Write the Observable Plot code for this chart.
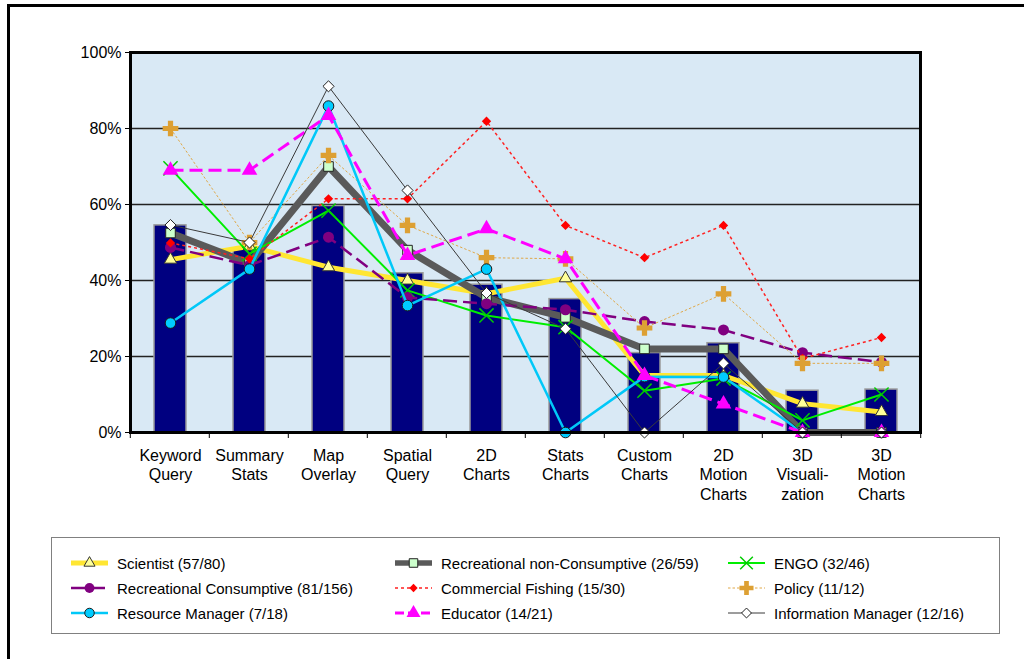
<!DOCTYPE html>
<html><head><meta charset="utf-8">
<script src="https://cdn.jsdelivr.net/npm/d3@7"></script>
<script src="https://cdn.jsdelivr.net/npm/@observablehq/plot@0.6"></script>
<style>
body{margin:0;background:#fff;font-family:"Liberation Sans",Arial,sans-serif;}
#wrap{position:relative;width:1024px;height:659px;overflow:hidden;background:#fff;}
#page{position:absolute;left:7px;top:4px;width:1030px;height:670px;border-left:3px solid #000;border-top:3px solid #000;}
#chart{position:absolute;left:0;top:0;}
#legend{position:absolute;left:51px;top:537px;width:947px;height:95px;border:1px solid #808080;background:#fff;}
.item{position:absolute;height:20px;display:flex;align-items:center;font-size:15px;color:#000;white-space:nowrap;}
.item svg{margin-right:9px;}
</style></head><body>
<div id="wrap"><div id="page"></div><div id="chart"></div><div id="legend"></div></div>
<script>
// ---- data ----
const categories = ["Keyword Query","Summary Stats","Map Overlay","Spatial Query","2D Charts","Stats Charts","Custom Charts","2D Motion Charts","3D Visualization","3D Motion Charts"];
const tickLabels = ["Keyword\nQuery","Summary\nStats","Map\nOverlay","Spatial\nQuery","2D\nCharts","Stats\nCharts","Custom\nCharts","2D\nMotion\nCharts","3D\nVisuali-\nzation","3D\nMotion\nCharts"];
const barValues = [0.545, 0.482, 0.596, 0.419, 0.389, 0.351, 0.209, 0.235, 0.110, 0.113];
const yTicks = [0, 0.2, 0.4, 0.6, 0.8, 1.0];

const seriesNames = ["Scientist (57/80)","Recreational non-Consumptive (26/59)","ENGO (32/46)","Recreational Consumptive (81/156)","Commercial Fishing (15/30)","Policy (11/12)","Resource Manager (7/18)","Educator (14/21)","Information Manager (12/16)"];
const scientist     = [0.455, 0.490, 0.435, 0.400, 0.365, 0.406, 0.150, 0.150, 0.076, 0.054];
const recNonCons    = [0.525, 0.445, 0.700, 0.480, 0.355, 0.303, 0.220, 0.220, 0.000, 0.000];
const engo          = [0.695, 0.470, 0.584, 0.374, 0.308, 0.277, 0.110, 0.142, 0.032, 0.100];
const recCons       = [0.487, 0.440, 0.514, 0.355, 0.339, 0.323, 0.292, 0.270, 0.210, 0.185];
const commFishing   = [0.499, 0.457, 0.615, 0.615, 0.819, 0.545, 0.460, 0.545, 0.195, 0.250];
const policy        = [0.800, 0.500, 0.729, 0.545, 0.460, 0.457, 0.275, 0.365, 0.182, 0.182];
const resourceMgr   = [0.288, 0.430, 0.859, 0.334, 0.430, 0.000, 0.147, 0.146, 0.000, 0.000];
const educator      = [0.690, 0.690, 0.834, 0.466, 0.536, 0.457, 0.150, 0.075, 0.000, 0.000];
const infoMgr       = [0.546, 0.500, 0.911, 0.637, 0.367, 0.273, 0.000, 0.182, 0.000, 0.000];
const seriesValues = [scientist, recNonCons, engo, recCons, commFishing, policy, resourceMgr, educator, infoMgr];

// ---- styles ----
const styles = [
  {stroke:"#ffe632", w:5,   dash:null,   symbol:"triangle", r:4.6, fill:"#ffff99", mstroke:"#333", msw:1},
  {stroke:"#5a5a5a", w:7,   dash:null,   symbol:"square",   r:5.4, fill:"#ccffcc", mstroke:"#222", msw:1},
  {stroke:"#00ee00", w:2,   dash:null,   symbol:"times",    r:6.5, fill:"none",    mstroke:"#00cc00", msw:1.5},
  {stroke:"#800080", w:2.5, dash:"14,6", symbol:"circle",   r:5.5, fill:"#800080", mstroke:"#800080", msw:0},
  {stroke:"#ff2020", w:1.5, dash:"3,3",  symbol:"diamond2", r:4.2, fill:"#ff0000", mstroke:"#ff0000", msw:0},
  {stroke:"#e0a848", w:1,   dash:"2.5,2",symbol:"cross",    r:6.6, fill:"#dda033", mstroke:"#dda033", msw:0},
  {stroke:"#00c8f8", w:2.5, dash:null,   symbol:"circle",   r:5.3, fill:"#00ccff", mstroke:"#1a1a1a", msw:1},
  {stroke:"#ff00ff", w:3,   dash:"13,6", symbol:"triangle", r:5.8, fill:"#ff00ff", mstroke:"none", msw:0},
  {stroke:"#3a3a3a", w:1,   dash:null,   symbol:"diamond2", r:5.0, fill:"#ffffff", mstroke:"#222", msw:1}
];

const bars = categories.map((c,i)=>({cat:c, v:barValues[i]}));
const labelOf = new Map(categories.map((c,i)=>[c, tickLabels[i]]));

const marks = [
  Plot.frame({fill:"#d9e9f5", stroke:"none"}),
  Plot.ruleY(yTicks.filter(t=>t>0 && t<1), {stroke:"#222", strokeWidth:1.3}),
  Plot.barY(bars, {x:"cat", y:"v", fill:"#000080", stroke:"#9a9a9a", strokeWidth:1.5})
];
seriesValues.forEach((vals,si)=>{
  const st = styles[si];
  const rows = categories.map((c,i)=>({cat:c, v:vals[i]}));
  marks.push(Plot.line(rows, {x:"cat", y:"v", stroke:st.stroke, strokeWidth:st.w, strokeDasharray:st.dash, strokeLinejoin:"round", strokeLinecap:"butt"}));
  marks.push(Plot.dot(rows, {x:"cat", y:"v", symbol:st.symbol, r:st.r, fill:st.fill, stroke:st.mstroke, strokeWidth:st.msw}));
});
marks.push(Plot.frame({stroke:"#000", strokeWidth:3}));
marks.push(Plot.axisY({ticks:yTicks, tickFormat:d3.format(".0%"), tickSize:5, tickPadding:4, fontSize:16, stroke:"#000"}));
marks.push(Plot.axisX({tickSize:0, tickPadding:15, fontSize:16, lineHeight:1.2, tickFormat:d=>labelOf.get(d)}));

const chart = Plot.plot({
  width:1024, height:537,
  marginLeft:130, marginRight:104, marginTop:52, marginBottom:105,
  style:{background:"transparent", fontFamily:"Liberation Sans, Arial, sans-serif", color:"#000", overflow:"visible"},
  x:{type:"band", domain:categories, paddingInner:0.6, paddingOuter:0.3, label:null},
  y:{domain:[0,1], label:null},
  marks
});
// category boundary ticks on the x axis (positions from the x scale)
const xs = chart.scale("x");
const y0 = chart.scale("y").apply(0);
const bTicks = d3.select(chart).append("g").attr("stroke","#000").attr("stroke-width",1);
categories.forEach((c,i)=>{
  const xb = xs.apply(c) - xs.step*xs.paddingInner/2;
  bTicks.append("line").attr("x1",xb).attr("x2",xb).attr("y1",y0+1).attr("y2",y0+6);
  if(i===categories.length-1){
    const xe = xs.apply(c)+xs.bandwidth+xs.step*xs.paddingInner/2;
    bTicks.append("line").attr("x1",xe).attr("x2",xe).attr("y1",y0+1).attr("y2",y0+6);
  }
});
document.getElementById("chart").appendChild(chart);

// ---- legend ----
const legend = d3.select("#legend");
const colX = [19, 343, 676], rowY = [15, 40, 65];
const symMap = {triangle:d3.symbolTriangle, square:d3.symbolSquare, times:d3.symbolTimes, circle:d3.symbolCircle, diamond2:d3.symbolDiamond2, cross:d3.symbolCross};
seriesNames.forEach((name,i)=>{
  const st = styles[i];
  const item = legend.append("div").attr("class","item")
    .style("left", colX[i%3]+"px").style("top", rowY[Math.floor(i/3)]+"px");
  const sw = item.append("svg").attr("width",37).attr("height",20);
  sw.append("line").attr("x1",0).attr("x2",37).attr("y1",10).attr("y2",10)
    .attr("stroke",st.stroke).attr("stroke-width",Math.min(st.w,5.5))
    .attr("stroke-dasharray", st.dash ? (i===7?"9,4":st.dash) : null);
  const s = Math.PI*st.r*st.r*0.8;
  sw.append("path").attr("transform","translate(18.5,10)")
    .attr("d", d3.symbol(symMap[st.symbol], s)())
    .attr("fill", st.fill).attr("stroke", st.mstroke).attr("stroke-width", st.msw);
  item.append("span").text(name);
});
</script>
</body></html>
